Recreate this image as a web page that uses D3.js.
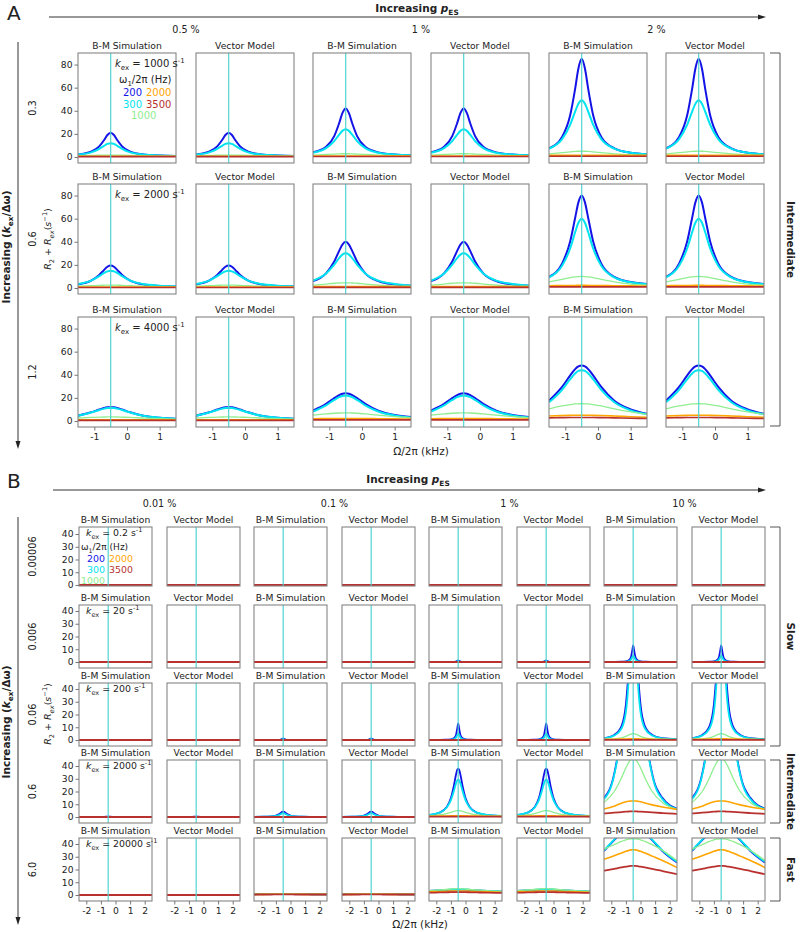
<!DOCTYPE html>
<html><head><meta charset="utf-8">
<script src="https://cdn.jsdelivr.net/npm/d3@7"></script>
<style>
body{margin:0;background:#fff}
svg{display:block}
text{font-family:"DejaVu Sans",sans-serif;fill:#222}
</style>
</head><body>
<svg id="c" width="800" height="932"></svg>
<script>
// ---------------- DATA ----------------
const omegaLabels = ["200","300","1000","2000","3500"];      // ω1/2π (Hz), series order
const methods = ["B-M Simulation","Vector Model"];
const pesA = ["0.5 %","1 %","2 %"];
const ratioA = ["0.3","0.6","1.2"];
const kexA = ["1000","2000","4000"];
const pesB = ["0.01 %","0.1 %","1 %","10 %"];
const ratioB = ["0.00006","0.006","0.06","0.6","6.0"];
const kexB = ["0.2","20","200","2000","20000"];
const yTicksA = [0,20,40,60,80];
const xTicksA = [-1,0,1];
const yTicksB = [0,10,20,30,40];
const xTicksB = [-2,-1,0,1,2];
const offsetKHz = -0.5;   // Δω/2π, vertical line

// Ω/2π (kHz) sample grid, panel A
const xA = [-1.5,-1.1,-0.85,-0.7,-0.6,-0.5,-0.4,-0.3,-0.15,0.1,0.5,1.0,1.5];
// each: [ω1=200, 300, 1000, 2000, 3500]  R2+Rex (s^-1)
const A_k1000_p05 = [
 [2.2,4.6,9.2,14.7,19.0,21,19.0,14.7,9.2,4.6,2.2,1.3,0.9],
 [2.1,4.0,7.0,9.7,11.3,12,11.3,9.7,7.0,4.0,2.1,1.3,0.9],
 [1.1,1.3,1.5,1.6,1.6,1.6,1.6,1.6,1.5,1.3,1.1,0.8,0.7],
 [0.6,0.6,0.6,0.6,0.6,0.6,0.6,0.6,0.6,0.6,0.6,0.6,0.6],
 [0.3,0.3,0.3,0.3,0.3,0.3,0.3,0.3,0.3,0.3,0.3,0.3,0.3]];
const A_k1000_p1 = [
 [4.0,8.8,18.1,29.2,37.9,42,37.9,29.2,18.1,8.8,4.0,2.1,1.4],
 [3.7,7.7,13.8,19.3,22.6,24,22.6,19.3,13.8,7.7,3.7,2.1,1.4],
 [1.65,2.2,2.55,2.7,2.8,2.8,2.8,2.7,2.55,2.2,1.65,1.2,0.96],
 [0.8,0.8,0.8,0.8,0.8,0.8,0.8,0.8,0.8,0.8,0.8,0.8,0.8],
 [0.4,0.4,0.4,0.4,0.4,0.4,0.4,0.4,0.4,0.4,0.4,0.4,0.4]];
const A_k1000_p2 = [
 [7.5,17.4,36.3,59.0,76.6,85,76.6,59.0,36.3,17.4,7.5,3.7,2.4],
 [7.2,15.4,28.0,39.3,46.1,49,46.1,39.3,28.0,15.4,7.2,3.7,2.3],
 [2.75,3.8,4.5,4.8,4.95,5,4.95,4.8,4.5,3.8,2.75,1.9,1.4],
 [1.5,1.5,1.5,1.5,1.5,1.5,1.5,1.5,1.5,1.5,1.5,1.5,1.5],
 [0.6,0.6,0.6,0.6,0.6,0.6,0.6,0.6,0.6,0.6,0.6,0.6,0.6]];
const A_k2000_p05 = [
 [3.1,6.4,11.3,15.7,18.4,19.5,18.4,15.7,11.3,6.4,3.1,1.8,1.2],
 [3.4,6.4,10.2,13.0,14.4,15,14.4,13.0,10.2,6.4,3.4,2.0,1.4],
 [1.5,2.0,2.3,2.4,2.5,2.5,2.5,2.4,2.3,2.0,1.5,1.1,0.9],
 [0.8,0.8,0.8,0.8,0.8,0.8,0.8,0.8,0.8,0.8,0.8,0.8,0.8],
 [0.4,0.4,0.4,0.4,0.4,0.4,0.4,0.4,0.4,0.4,0.4,0.4,0.4]];
const A_k2000_p1 = [
 [6.0,12.7,22.9,32.1,37.6,40,37.6,32.1,22.9,12.7,6.0,3.1,2.0],
 [6.4,12.6,20.3,25.9,28.9,30,28.9,25.9,20.3,12.6,6.4,3.5,2.2],
 [2.5,3.4,4.1,4.3,4.5,4.5,4.5,4.3,4.1,3.4,2.5,1.7,1.3],
 [1.2,1.2,1.2,1.2,1.2,1.2,1.2,1.2,1.2,1.2,1.2,1.2,1.2],
 [0.5,0.5,0.5,0.5,0.5,0.5,0.5,0.5,0.5,0.5,0.5,0.5,0.5]];
const A_k2000_p2 = [
 [9.6,21.1,40.5,60.6,74.1,80,74.1,60.6,40.5,21.1,9.6,5.1,3.4],
 [9.1,19.2,34.4,48.2,56.5,60,56.5,48.2,34.4,19.2,9.1,4.9,3.2],
 [5.3,7.5,9.0,9.6,9.9,10,9.9,9.6,9.0,7.5,5.3,3.4,2.4],
 [2.0,2.1,2.2,2.2,2.3,2.3,2.3,2.2,2.2,2.1,2.0,1.8,1.6],
 [1.0,1.0,1.0,1.0,1.0,1.0,1.0,1.0,1.0,1.0,1.0,1.0,1.0]];
const A_k4000_p05 = [
 [4.6,7.5,9.9,11.2,11.8,12,11.8,11.2,9.9,7.5,4.6,2.8,1.9],
 [4.5,7.3,9.5,10.7,11.2,11.3,11.2,10.7,9.5,7.3,4.5,2.8,1.9],
 [2.6,3.1,3.3,3.45,3.5,3.5,3.5,3.45,3.3,3.1,2.6,2.0,1.6],
 [1.0,1.0,1.0,1.0,1.0,1.0,1.0,1.0,1.0,1.0,1.0,1.0,1.0],
 [0.5,0.5,0.5,0.5,0.5,0.5,0.5,0.5,0.5,0.5,0.5,0.5,0.5]];
const A_k4000_p1 = [
 [9.0,14.8,19.8,22.4,23.6,24,23.6,22.4,19.8,14.8,9.0,5.2,3.4],
 [8.2,13.6,18.2,20.6,21.6,22,21.6,20.6,18.2,13.6,8.2,4.8,3.1],
 [5.0,6.1,6.7,6.9,7.0,7,7.0,6.9,6.7,6.1,5.0,3.8,2.8],
 [2.0,2.1,2.1,2.2,2.2,2.2,2.2,2.2,2.1,2.1,2.0,1.8,1.6],
 [1.0,1.0,1.0,1.0,1.0,1.0,1.0,1.0,1.0,1.0,1.0,1.0,1.0]];
const A_k4000_p2 = [
 [17.6,29.5,39.5,44.9,47.2,48,47.2,44.9,39.5,29.5,17.6,10.0,6.3],
 [16.2,27.0,36.2,41.1,43.3,44,43.3,41.1,36.2,27.0,16.2,9.2,5.9],
 [10.5,13.0,14.2,14.8,14.9,15,14.9,14.8,14.2,13.0,10.5,7.8,5.7],
 [4.3,4.7,4.9,5,5,5,5,5,4.9,4.7,4.3,3.7,3.2],
 [2.7,2.9,3,3,3,3,3,3,3,2.9,2.7,2.4,2.1]];

// Ω/2π (kHz) sample grid, panel B
const xB = [-2.5,-1.8,-1.3,-1.0,-0.8,-0.65,-0.57,-0.5,-0.43,-0.35,-0.2,0,0.3,0.8,1.5,2.5];
const zeroB = [0,0,0,0,0,0,0,0,0,0,0,0,0,0,0,0];
const B_flat = [zeroB,zeroB,zeroB,zeroB,zeroB];
const B_smallSpike = [
 [0,0,0,0,0.1,0.4,0.9,1.3,0.9,0.4,0.1,0,0,0,0,0],
 [0,0,0,0,0,0.2,0.4,0.5,0.4,0.2,0,0,0,0,0,0],
 zeroB, zeroB, zeroB];
const B_spike13 = [
 [0.03,0.08,0.2,0.5,1.3,4.0,8.7,13,8.7,4.0,1.3,0.5,0.2,0.08,0.03,0.01],
 [0.1,0.1,0.1,0.3,0.7,2.0,3.7,5,3.7,2.0,0.7,0.3,0.1,0.1,0.1,0.1],
 [0,0,0,0,0.1,0.2,0.3,0.3,0.3,0.2,0.1,0,0,0,0,0],
 zeroB, zeroB];
const B_k200_p10 = [
 [1.5,4,11,28,60,110,140,150,140,110,60,28,11,4,1.5,0.8],
 [1.3,3.5,9,22,50,95,120,128,120,95,50,22,9,3.5,1.3,0.7],
 [0.5,0.8,1.6,2.8,4.0,4.7,4.9,5,4.9,4.7,4.0,2.8,1.6,0.8,0.5,0.3],
 [0.5,0.6,0.7,0.8,0.9,1.0,1.0,1.0,1.0,1.0,0.9,0.8,0.7,0.6,0.5,0.4],
 [0.1,0.1,0.1,0.1,0.1,0.1,0.1,0.1,0.1,0.1,0.1,0.1,0.1,0.1,0.1,0.1]];
const B_k2000_p001 = [
 [0,0,0,0,0.1,0.2,0.3,0.3,0.3,0.2,0.1,0,0,0,0,0],
 zeroB, zeroB, zeroB, zeroB];
const B_k2000_p01 = [
 [0.1,0.2,0.5,1.1,2.1,3.4,4.0,4.2,4.0,3.4,2.1,1.1,0.5,0.2,0.1,0.04],
 [0.1,0.2,0.4,0.8,1.5,2.4,2.8,3.0,2.8,2.4,1.5,0.8,0.4,0.2,0.1,0.03],
 [0.1,0.1,0.1,0.2,0.2,0.3,0.3,0.3,0.3,0.3,0.2,0.2,0.1,0.1,0.1,0.1],
 [0.1,0.1,0.1,0.1,0.1,0.1,0.1,0.1,0.1,0.1,0.1,0.1,0.1,0.1,0.1,0.1],
 zeroB];
const B_k2000_p1 = [
 [1.4,3.3,7.6,14.8,24.3,33.3,36.9,38,36.9,33.3,24.3,14.8,7.6,3.3,1.4,0.7],
 [1.7,3.4,7.3,13.3,20.3,26.4,28.6,29.3,28.6,26.4,20.3,13.3,7.3,3.4,1.7,0.9],
 [0.9,1.6,2.7,3.7,4.4,4.8,5.0,5.0,5.0,4.8,4.4,3.7,2.7,1.6,0.9,0.6],
 [0.6,0.7,0.8,0.9,1,1,1,1,1,1,1,0.9,0.8,0.7,0.6,0.5],
 [0.3,0.3,0.3,0.3,0.3,0.3,0.3,0.3,0.3,0.3,0.3,0.3,0.3,0.3,0.3,0.3]];
const B_k2000_p10 = [
 [15,34,80,190,450,950,1100,1150,1100,950,450,190,80,34,15,6.5],
 [14,33,78,185,440,930,1080,1130,1080,930,440,185,78,33,14,6.3],
 [11.3,20,30.8,38.6,43,45.2,45.8,46,45.8,45.2,43,38.6,30.8,20,11.3,5.8],
 [6.3,8.5,10.8,12.0,12.4,12.6,12.6,12.6,12.6,12.6,12.4,12.0,11.0,9.5,7.8,6.0],
 [2.8,3.4,3.9,4.2,4.3,4.4,4.4,4.4,4.4,4.4,4.3,4.2,4.0,3.6,3.1,2.5]];
const B_k20000_p01 = [
 [0.6,0.7,0.8,0.85,0.9,0.9,0.9,0.9,0.9,0.9,0.9,0.85,0.8,0.7,0.6,0.5],
 [0.6,0.7,0.8,0.85,0.9,0.9,0.9,0.9,0.9,0.9,0.9,0.85,0.8,0.7,0.6,0.5],
 [0.7,0.8,0.9,0.95,1.0,1.0,1.0,1.0,1.0,1.0,1.0,0.95,0.9,0.8,0.7,0.6],
 [0.5,0.5,0.6,0.6,0.6,0.6,0.6,0.6,0.6,0.6,0.6,0.6,0.6,0.5,0.5,0.5],
 [0.4,0.4,0.4,0.5,0.5,0.5,0.5,0.5,0.5,0.5,0.5,0.5,0.4,0.4,0.4,0.4]];
const B_k20000_p1 = [
 [3.2,3.6,3.9,4.1,4.2,4.3,4.3,4.3,4.3,4.3,4.2,4.1,3.9,3.6,3.2,2.8],
 [3.3,3.7,4.1,4.3,4.4,4.5,4.5,4.5,4.5,4.5,4.4,4.3,4.1,3.7,3.3,2.9],
 [3.5,4.0,4.4,4.7,4.8,4.9,5.0,5.0,5.0,4.9,4.8,4.7,4.4,4.0,3.5,3.0],
 [2.5,2.8,3.0,3.1,3.2,3.2,3.2,3.2,3.2,3.2,3.2,3.1,3.0,2.8,2.5,2.2],
 [1.8,2.0,2.1,2.2,2.2,2.3,2.3,2.3,2.3,2.3,2.2,2.2,2.1,2.0,1.8,1.6]];
const B_k20000_p10 = [
 [34.5,43,48.5,51.5,53.5,54.5,54.5,54.5,54.5,54.5,53.5,51.5,48.5,43,34.5,25.5],
 [35,43.5,49,52,54,55,55,55,55,55,54,52,49,43.5,35,26],
 [36,39.5,42,43.3,43.8,44,44,44,44,44,43.8,43.3,42,39.5,35,27],
 [28,30.8,33,34.3,35,35.4,35.5,35.5,35.5,35.4,35,34.3,33,30.5,27,21.5],
 [19,20.5,21.6,22.2,22.6,22.8,22.8,22.8,22.8,22.8,22.6,22.2,21.6,20.5,18.8,16.3]];

const dataA = [
  [A_k1000_p05, A_k1000_p1, A_k1000_p2],
  [A_k2000_p05, A_k2000_p1, A_k2000_p2],
  [A_k4000_p05, A_k4000_p1, A_k4000_p2]];
const dataB = [
  [B_flat, B_flat, B_flat, B_flat],
  [B_flat, B_flat, B_smallSpike, B_spike13],
  [B_flat, B_smallSpike, B_spike13, B_k200_p10],
  [B_k2000_p001, B_k2000_p01, B_k2000_p1, B_k2000_p10],
  [B_flat, B_k20000_p01, B_k20000_p1, B_k20000_p10]];

// ---------------- STYLE / LAYOUT ----------------
const COL = ["#1414e6","#00e4f0","#90ee90","#ffa500","#b8312f"];
const svg = d3.select("#c");
const SANS = "Liberation Sans, Arial, sans-serif";
let cpid = 0;

function rich(sel, parts, fs) {
  let shift = 0;
  parts.forEach(p => {
    const ts = sel.append("tspan").text(p.t);
    const target = p.sub ? fs*0.3 : p.sup ? -fs*0.4 : 0;
    if (target - shift !== 0) ts.attr("dy", target - shift);
    shift = target;
    if (p.sub || p.sup) ts.attr("font-size", fs*0.7);
    if (p.i) ts.attr("font-style","italic");
  });
  return sel;
}

function panel(o) {
  const x = d3.scaleLinear().domain(o.xd).range([o.x0, o.x0 + o.w]);
  const y = d3.scaleLinear().domain(o.yd).range([o.y0 + o.h, o.y0]);
  const id = "cp" + (cpid++);
  svg.append("clipPath").attr("id", id).append("rect")
    .attr("x", o.x0).attr("y", o.y0).attr("width", o.w).attr("height", o.h);
  const g = svg.append("g");
  const pg = g.append("g").attr("clip-path", `url(#${id})`);
  const line = d3.line().x((d,i) => x(o.xs[i])).y(d => y(d)).curve(d3.curveMonotoneX);
  o.ser.forEach((s,k) => {
    pg.append("path").attr("d", line(s)).attr("fill","none")
      .attr("stroke", COL[k]).attr("stroke-width", o.lw[k]).attr("stroke-linejoin","round");
  });
  pg.append("line").attr("x1", x(offsetKHz)).attr("x2", x(offsetKHz))
    .attr("y1", o.y0).attr("y2", o.y0 + o.h)
    .attr("stroke","#4fd4d0").attr("stroke-width",1.3).attr("opacity",0.9);
  g.append("rect").attr("x", o.x0).attr("y", o.y0).attr("width", o.w).attr("height", o.h)
    .attr("fill","none").attr("stroke","#858585").attr("stroke-width",1.1);
  g.append("text").attr("x", o.x0 + o.w/2).attr("y", o.y0 - 4)
    .attr("text-anchor","middle").attr("font-size",9.2).text(o.title);
  if (o.yt) {
    const ax = g.append("g").attr("transform",`translate(${o.x0},0)`)
      .call(d3.axisLeft(y).tickValues(o.yt).tickSize(3.5).tickPadding(2));
    ax.select(".domain").remove();
    ax.selectAll("line").attr("stroke","#777");
    ax.selectAll("text").attr("font-size",9.2).attr("font-family","DejaVu Sans").attr("fill","#222");
  }
  if (o.xt) {
    const ax = g.append("g").attr("transform",`translate(0,${o.y0 + o.h})`)
      .call(d3.axisBottom(x).tickValues(o.xt).tickSize(3.5).tickPadding(3).tickFormat(d => String(d)));
    ax.select(".domain").remove();
    ax.selectAll("line").attr("stroke","#777");
    ax.selectAll("text").attr("font-size",9.2).attr("font-family","DejaVu Sans").attr("fill","#222");
  }
  return {x, y, g};
}

function arrowH(x1, x2, yy) {
  svg.append("line").attr("x1",x1).attr("x2",x2-5).attr("y1",yy).attr("y2",yy).attr("stroke","#333").attr("stroke-width",1);
  svg.append("path").attr("d",`M${x2},${yy} L${x2-8},${yy-2.5} L${x2-8},${yy+2.5} Z`).attr("fill","#222");
}
function arrowV(xx, y1, y2) {
  svg.append("line").attr("x1",xx).attr("x2",xx).attr("y1",y1).attr("y2",y2-5).attr("stroke","#333").attr("stroke-width",1);
  svg.append("path").attr("d",`M${xx},${y2} L${xx-2.5},${y2-8} L${xx+2.5},${y2-8} Z`).attr("fill","#222");
}
function bracket(y1, y2, label) {
  svg.append("path").attr("d",`M770,${y1} H780 V${y2} H770`).attr("fill","none").attr("stroke","#555").attr("stroke-width",1);
  svg.append("text").attr("transform",`translate(787,${(y1+y2)/2}) rotate(90)`)
    .attr("text-anchor","middle").attr("font-family",SANS).attr("font-weight","bold")
    .attr("font-size",10.5).text(label);
}
function rotLabel(xx, yy, txt, fs) {
  svg.append("text").attr("transform",`translate(${xx},${yy}) rotate(-90)`)
    .attr("text-anchor","middle").attr("font-size",fs).text(txt);
}
function headerP(cx, yy) {
  const t = svg.append("text").attr("x",cx).attr("y",yy).attr("text-anchor","middle")
    .attr("font-family",SANS).attr("font-weight","bold").attr("font-size",10.5);
  rich(t, [{t:"Increasing "},{t:"p",i:1},{t:"ES",sub:1}], 10.5);
}
function sideLabel(yy) {
  const t = svg.append("text").attr("transform",`translate(10,${yy}) rotate(-90)`)
    .attr("text-anchor","middle").attr("font-family",SANS).attr("font-weight","bold").attr("font-size",10.5);
  rich(t, [{t:"Increasing ("},{t:"k",i:1},{t:"ex",sub:1},{t:"/Δω)"}], 10.5);
}
function yLabel(xx, yy) {
  const t = svg.append("text").attr("transform",`translate(${xx},${yy}) rotate(-90)`)
    .attr("text-anchor","middle").attr("font-size",9.5);
  rich(t, [{t:"R",i:1},{t:"2",sub:1},{t:" + "},{t:"R",i:1},{t:"ex",sub:1,i:1},{t:"("},{t:"s",i:1},{t:"−1",sup:1},{t:")"}], 9.5);
}
function kexText(xx, yy, val, fs) {
  const t = svg.append("text").attr("x",xx).attr("y",yy).attr("font-size",fs);
  rich(t, [{t:"k",i:1},{t:"ex",sub:1},{t:" = " + val + " s"},{t:"-1",sup:1}], fs);
}
function omegaText(xx, yy, fs) {
  const t = svg.append("text").attr("x",xx).attr("y",yy).attr("font-size",fs);
  rich(t, [{t:"ω"},{t:"1",sub:1},{t:"/2π (Hz)"}], fs);
}
function colorNum(xx, yy, k, fs) {
  svg.append("text").attr("x",xx).attr("y",yy).attr("font-size",fs)
    .style("fill", COL[k]).text(omegaLabels[k]);
}

// ---------------- PANEL A ----------------
svg.append("text").attr("x",7).attr("y",20).attr("font-family",SANS).attr("font-size",20).text("A");
headerP(417, 12);
arrowH(49, 766, 17);
const colA = [78,196,313,431,549,666], wA = 98;
const rowA = [53,184,317], hA = 110;
pesA.forEach((p,i) => svg.append("text").attr("x",(colA[2*i]+colA[2*i+1]+wA)/2).attr("y",33)
  .attr("text-anchor","middle").attr("font-size",9.6).text(p));
rowA.forEach((top,r) => {
  for (let c = 0; c < 6; c++) {
    panel({x0:colA[c], y0:top, w:wA, h:hA, xd:[-1.5,1.5], yd:[-5.2,90], xs:xA,
      ser:dataA[r][Math.floor(c/2)], lw:[2,2,1.3,1.6,1.6], title:methods[c%2],
      yt: c===0 ? yTicksA : null, xt: r===2 ? xTicksA : null});
  }
  rotLabel(36, top + hA/2, ratioA[r], 9.8);
  kexText(115, top + 14, kexA[r], 10);
});
omegaText(119, 83, 10);
colorNum(123, 96, 0, 10); colorNum(146, 96, 3, 10);
colorNum(123, 107.5, 1, 10); colorNum(146, 107.5, 4, 10);
colorNum(131, 118.5, 2, 10);
arrowV(18, 42, 449);
sideLabel(247);
yLabel(51, 239);
bracket(53, 426, "Intermediate");
svg.append("text").attr("x",421).attr("y",455).attr("text-anchor","middle")
  .attr("font-family",SANS).attr("font-size",10.5).text("Ω/2π (kHz)");

// ---------------- PANEL B ----------------
svg.append("text").attr("x",7).attr("y",488).attr("font-family",SANS).attr("font-size",20).text("B");
headerP(408, 483);
arrowH(53, 766, 490);
const colB = [79,167,254,342,429,517,604,692], wB = 73;
const rowB = [527,605,683,760,838];
const hB = [59,63,63,63,63];
const ydB = [[-0.8,45.5],[-4.7,44.7],[-4.7,44.7],[-4.7,44.7],[-4.7,44.7]];
pesB.forEach((p,i) => svg.append("text").attr("x",(colB[2*i]+colB[2*i+1]+wB)/2).attr("y",507)
  .attr("text-anchor","middle").attr("font-size",9.6).text(p));
rowB.forEach((top,r) => {
  for (let c = 0; c < 8; c++) {
    panel({x0:colB[c], y0:top, w:wB, h:hB[r], xd:[-2.5,2.5], yd:ydB[r], xs:xB,
      ser:dataB[r][Math.floor(c/2)], lw:[1.8,1.8,1.3,1.6,1.8], title:methods[c%2],
      yt: c===0 ? yTicksB : null, xt: r===4 ? xTicksB : null});
  }
  rotLabel(36, top + hB[r]/2, ratioB[r], 9.8);
  kexText(86, top + 9, kexB[r], 9.4);
});
omegaText(81, 550, 9);
colorNum(87, 561.5, 0, 9.4); colorNum(109, 561.5, 3, 9.4);
colorNum(87, 572.5, 1, 9.4); colorNum(109, 572.5, 4, 9.4);
colorNum(81, 583.5, 2, 9.4);
arrowV(18, 517, 925);
sideLabel(722);
yLabel(51, 714);
bracket(527, 746, "Slow");
bracket(760, 823, "Intermediate");
bracket(838, 901, "Fast");
svg.append("text").attr("x",420).attr("y",928).attr("text-anchor","middle")
  .attr("font-family",SANS).attr("font-size",10.5).text("Ω/2π (kHz)");
</script>
</body></html>
